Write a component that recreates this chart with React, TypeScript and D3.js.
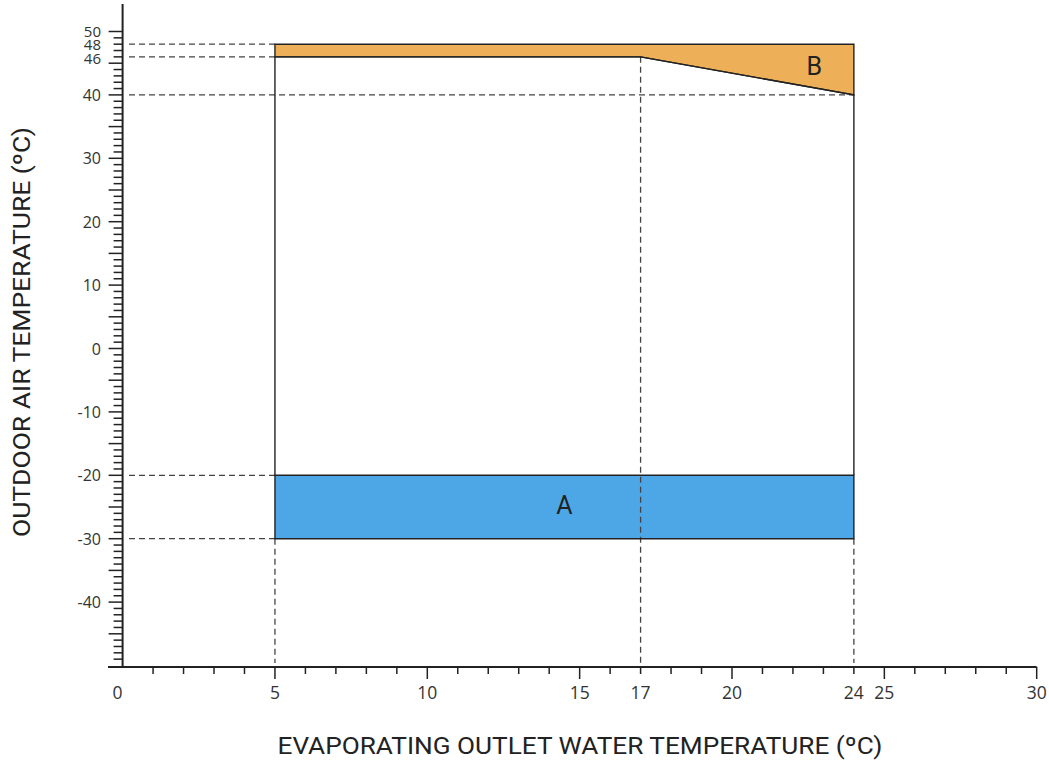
import React from "react";
import * as d3 from "d3";

const xTickLabels = [0, 5, 10, 15, 17, 20, 24, 25, 30];
const yTickLabels = [50, 48, 46, 40, 30, 20, 10, 0, -10, -20, -30, -40];
const regionA: [number, number][] = [[5, -30], [24, -30], [24, -20], [5, -20]];
const regionB: [number, number][] = [[5, 48], [24, 48], [24, 40], [17, 46], [5, 46]];
const envelope: [number, number][] = [[5, -20], [5, 46], [17, 46], [24, 40], [24, -20]];
const hGuides = [{ y: 48, to: 5 }, { y: 46, to: 5 }, { y: 40, to: 24 }, { y: -20, to: 5 }, { y: -30, to: 5 }];
const vGuides = [{ x: 5, from: -30 }, { x: 17, from: 46 }, { x: 24, from: -30 }];
const labelA = { x: 14.5, y: -24.8, text: "A" };
const labelB = { x: 22.7, y: 44.5, text: "B" };
const xTitle = "EVAPORATING OUTLET WATER TEMPERATURE (ºC)";
const yTitle = "OUTDOOR AIR TEMPERATURE (ºC)";

const W = 1049, H = 765;
const FONT = "'Open Sans', 'Noto Sans', sans-serif";
const TFONT = "Roboto, 'Open Sans', sans-serif";

export default function App() {
  const x = d3.scaleLinear().domain([0, 30]).range([122.6, 1036.7]);
  const y = d3.scaleLinear().domain([-50, 50]).range([665.5, 31.5]);
  const line = d3.line<[number, number]>().x(d => x(d[0])).y(d => y(d[1]));
  const axisY = 667;
  const xMinor = d3.range(0, 31, 1);
  const yMinor = d3.range(-49, 51, 1);
  const dash = "6,4";
  const guide = "#444";
  return (
    <svg width={W} height={H} style={{ position: "absolute", left: 0, top: 0, background: "#fff" }}>
      <path d={line(regionB) + "Z"} fill="#EDB058" />
      <path d={line(regionA) + "Z"} fill="#4DA7E6" />
      {hGuides.map((g, i) => (
        <line key={"h" + i} x1={129} x2={x(g.to)} y1={y(g.y)} y2={y(g.y)} stroke={guide} strokeWidth={1.3} strokeDasharray={dash} />
      ))}
      {vGuides.map((g, i) => (
        <line key={"v" + i} x1={x(g.x)} x2={x(g.x)} y1={y(g.from)} y2={axisY - 4} stroke={guide} strokeWidth={1.3} strokeDasharray={dash} />
      ))}
      <path d={line(regionB) + "Z"} fill="none" stroke="#222" strokeWidth={1.4} />
      <path d={line(regionA) + "Z"} fill="none" stroke="#222" strokeWidth={1.4} />
      <path d={line(envelope) as string} fill="none" stroke="#222" strokeWidth={1.4} />
      <text x={x(labelA.x)} y={y(labelA.y)} fontFamily={TFONT} fontSize={25} fill="#222" textAnchor="middle" dominantBaseline="central">{labelA.text}</text>
      <text x={x(labelB.x)} y={y(labelB.y)} fontFamily={TFONT} fontSize={25} fill="#222" textAnchor="middle" dominantBaseline="central">{labelB.text}</text>
      {/* axes */}
      <line x1={x(0)} x2={x(0)} y1={4} y2={axisY} stroke="#222" strokeWidth={2} />
      <line x1={108} x2={x(30)} y1={axisY} y2={axisY} stroke="#222" strokeWidth={2} />
      {xMinor.filter(v => v > 0).map(v => (
        <line key={"xt" + v} x1={x(v)} x2={x(v)} y1={axisY} y2={axisY + (v % 5 === 0 ? 12 : 7)} stroke="#222" strokeWidth={1.5} />
      ))}
      {yMinor.map(v => (
        <line key={"yt" + v} x1={x(0) - (v % 5 === 0 ? 14 : 9)} x2={x(0)} y1={y(v)} y2={y(v)} stroke="#222" strokeWidth={1.5} />
      ))}
      {xTickLabels.map(v => (
        <text key={"xl" + v} x={x(v) - (v === 0 ? 5 : 0)} y={699} fontFamily={FONT} fontSize={17.5} fill="#333" textAnchor="middle">{v}</text>
      ))}
      {yTickLabels.map(v => (
        <text key={"yl" + v} x={101} y={y(v) + (v === 50 ? -1 : v === 46 ? 1 : 0)} fontFamily={FONT} fontSize={v > 45 ? 15 : 16} fill="#333" textAnchor="end" dominantBaseline="central">{v}</text>
      ))}
      <text x={580} y={746} fontFamily={TFONT} fontSize={24} fill="#222" textAnchor="middle" dominantBaseline="central" textLength={605} lengthAdjust="spacingAndGlyphs">{xTitle}</text>
      <text transform="translate(22,332) rotate(-90)" fontFamily={TFONT} fontSize={24} fill="#222" textAnchor="middle" dominantBaseline="central" textLength={410} lengthAdjust="spacingAndGlyphs">{yTitle}</text>
    </svg>
  );
}
